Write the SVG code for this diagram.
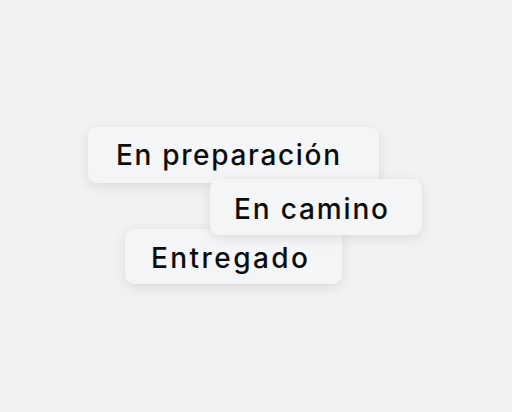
<svg xmlns="http://www.w3.org/2000/svg" width="512" height="412" viewBox="0 0 512 412">
  <style>
    .pill { fill: #f4f5f7; filter: url(#sh); }
    .lbl { font-family: Inter, "Noto Sans", sans-serif; font-size: 28px; font-weight: 500; fill: #0d0d0d; }
  </style>
  <defs>
    <filter id="sh" x="-20%" y="-50%" width="140%" height="200%">
      <feDropShadow dx="0" dy="3" stdDeviation="6" flood-color="#000" flood-opacity="0.10"/>
    </filter>
  </defs>
  <rect width="512" height="412" fill="#f1f2f4"/>
  <g id="connectors"/>
  <g id="node-preparacion">
    <rect class="pill" x="88" y="127" width="291" height="56" rx="10"/>
    <text class="lbl" x="116" y="164.5" textLength="224" lengthAdjust="spacing">En preparación</text>
  </g>
  <g id="node-entregado">
    <rect class="pill" x="125" y="229" width="217" height="55" rx="10"/>
    <text class="lbl" x="151" y="268" textLength="157" lengthAdjust="spacing">Entregado</text>
  </g>
  <g id="node-camino">
    <rect class="pill" x="210" y="179" width="212" height="56" rx="10"/>
    <text class="lbl" x="234" y="219" textLength="154" lengthAdjust="spacing">En camino</text>
  </g>
</svg>
